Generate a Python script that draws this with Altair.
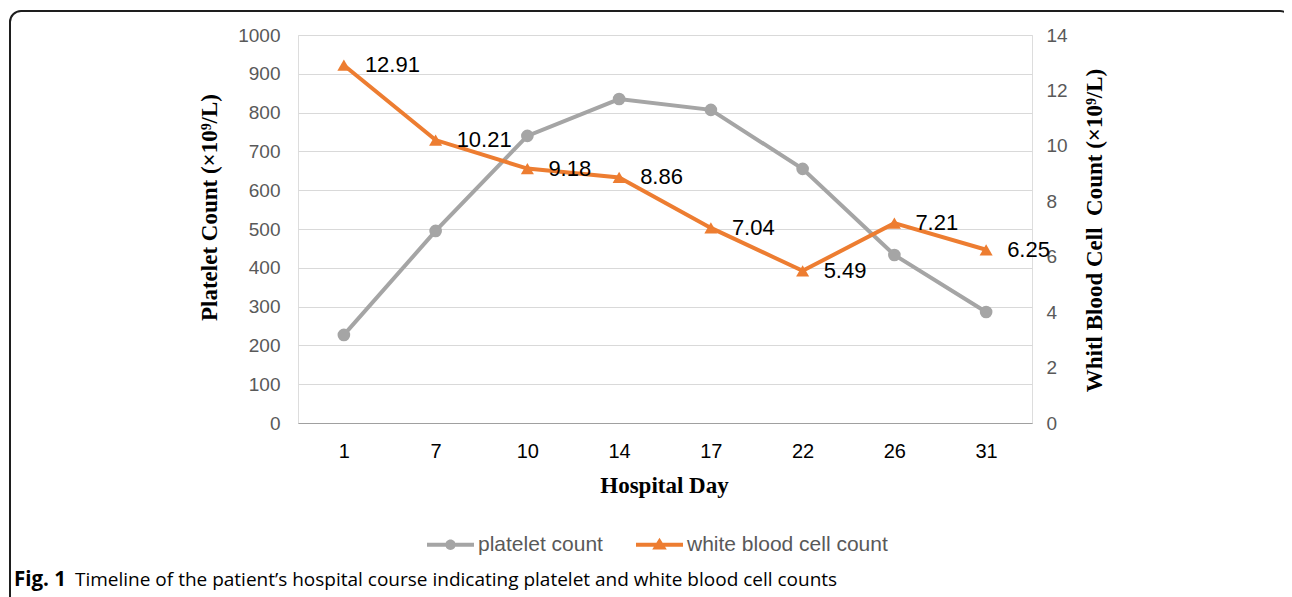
import altair as alt
import pandas as pd

days = [1, 7, 10, 14, 17, 22, 26, 31]
platelet = [227, 495, 740, 835, 807, 655, 433, 286]
wbc = [12.91, 10.21, 9.18, 8.86, 7.04, 5.49, 7.21, 6.25]
series_names = ["platelet count", "white blood cell count"]
left_ticks = [0, 100, 200, 300, 400, 500, 600, 700, 800, 900, 1000]
right_ticks = [0, 2, 4, 6, 8, 10, 12, 14]

GRAY = "#A5A5A5"
ORANGE = "#ED7D31"

df_p = pd.DataFrame({"day": days, "value": platelet})
df_w = pd.DataFrame({"day": days, "value": wbc, "label": [f"{v:.2f}" for v in wbc]})
df_leg = pd.DataFrame({"day": days[:2], "series": series_names})
one = pd.DataFrame({"a": [0]})

W, H = 734, 388

x_enc = alt.X(
    "day:O",
    sort=days,
    scale=alt.Scale(domain=days),
    axis=alt.Axis(
        title="Hospital Day",
        labelAngle=0,
        labelFont="Liberation Sans",
        labelFontSize=20,
        labelColor="#000000",
        labelPadding=18,
        ticks=False,
        tickSize=0,
        domainColor="#A0A0A0",
        domainWidth=1.2,
        grid=False,
        titleFont="Liberation Serif",
        titleFontSize=23,
        titleFontWeight="bold",
        titleColor="#000000",
        titleX=366,
        titleY=62,
        titleAlign="center",
        titleBaseline="middle",
    ),
)

left_axis = alt.Axis(
    title="Platelet Count (×10⁹/L)",
    values=left_ticks,
    format="d",
    grid=True,
    gridColor="#D9D9D9",
    gridWidth=1.2,
    domain=False,
    ticks=False,
    tickSize=0,
    labelFont="Liberation Sans",
    labelFontSize=19,
    labelColor="#595959",
    labelPadding=18,
    titleFont="Liberation Serif",
    titleFontSize=23,
    titleFontWeight="bold",
    titleColor="#000000",
    titleAngle=270,
    titleX=-89,
    titleY=172,
    titleAlign="center",
    titleBaseline="middle",
)

right_axis = alt.Axis(
    title="Whitl Blood Cell\u00a0 Count (×10⁹/L)",
    orient="right",
    values=right_ticks,
    format="d",
    grid=False,
    domain=False,
    ticks=False,
    tickSize=0,
    labelFont="Liberation Sans",
    labelFontSize=19,
    labelColor="#595959",
    labelPadding=14,
    titleFont="Liberation Serif",
    titleFontSize=23,
    titleFontWeight="bold",
    titleColor="#000000",
    titleAngle=270,
    titleX=62,
    titleY=195,
    titleAlign="center",
    titleBaseline="middle",
)

border = alt.Chart(one).mark_rect(
    filled=False, stroke="#1E1E1E", strokeWidth=2, cornerRadius=11
).encode(x=alt.value(-288), x2=alt.value(993), y=alt.value(-24), y2=alt.value(800))

base_p = alt.Chart(df_p).encode(
    x=x_enc, y=alt.Y("value:Q", scale=alt.Scale(domain=[0, 1000]), axis=left_axis)
)
p_line = base_p.mark_line(color=GRAY, strokeWidth=4)
p_pts = base_p.mark_point(filled=True, color=GRAY, opacity=1, size=160, shape="circle")
plat_layer = alt.layer(p_line, p_pts)

base_w = alt.Chart(df_w).encode(
    x=x_enc, y=alt.Y("value:Q", scale=alt.Scale(domain=[0, 14]), axis=right_axis)
)
w_line = base_w.mark_line(color=ORANGE, strokeWidth=4)
w_pts = base_w.mark_point(filled=True, color=ORANGE, opacity=1, size=170, shape="triangle-up")
w_txt = base_w.mark_text(
    align="left", baseline="middle", dx=21, dy=0,
    font="Liberation Sans", fontSize=22, color="#000000"
).encode(text="label:N")
wbc_layer = alt.layer(w_line, w_pts, w_txt)

circle_path = (
    "M-1,-0.085H1V0.085H-1Z "
    "M-0.22,0A0.22,0.22 0 1,1 0.22,0A0.22,0.22 0 1,1 -0.22,0Z"
)
tri_path = "M-1,-0.085H1V0.085H-1Z M-0.31,0.2L0,-0.3L0.31,0.2Z"

leg_props = dict(
    orient="none",
    legendX=129,
    legendY=486,
    direction="horizontal",
    title=None,
    symbolSize=2209,
    symbolStrokeWidth=0,
    symbolOpacity=1,
    labelFont="Liberation Sans",
    labelFontSize=21,
    labelColor="#595959",
    labelOffset=4,
    labelLimit=400,
    columnPadding=33,
    padding=0,
)
legend_layer = alt.Chart(df_leg).mark_point(filled=True, size=0, opacity=1).encode(
    x=alt.X("day:O", sort=days),
    y=alt.value(0),
    color=alt.Color(
        "series:N",
        scale=alt.Scale(domain=series_names, range=[GRAY, ORANGE]),
        legend=alt.Legend(**leg_props),
    ),
    shape=alt.Shape(
        "series:N",
        scale=alt.Scale(domain=series_names, range=[circle_path, tri_path]),
        legend=alt.Legend(**leg_props),
    ),
)

cap1 = alt.Chart(one).mark_text(
    align="left", baseline="middle", font="Open Sans", fontSize=20.5,
    fontWeight="bold", color="#000000", text="Fig. 1"
).encode(x=alt.value(-284), y=alt.value(545))
cap2 = alt.Chart(one).mark_text(
    align="left", baseline="middle", font="Open Sans", fontSize=19,
    color="#000000",
    text="Timeline of the patient\u2019s hospital course indicating platelet and white blood cell counts",
).encode(x=alt.value(-223), y=alt.value(545))

chart = (
    alt.layer(border, plat_layer, wbc_layer, legend_layer, cap1, cap2)
    .resolve_scale(y="independent")
    .properties(
        width=W,
        height=H,
        autosize=alt.AutoSizeParams(type="none"),
        padding={"left": 290, "top": 27, "right": 252, "bottom": 174},
    )
    .configure_view(stroke=None)
    .configure(background="white")
)

chart.save("out.html", embed_options={"renderer": "svg", "actions": False})
